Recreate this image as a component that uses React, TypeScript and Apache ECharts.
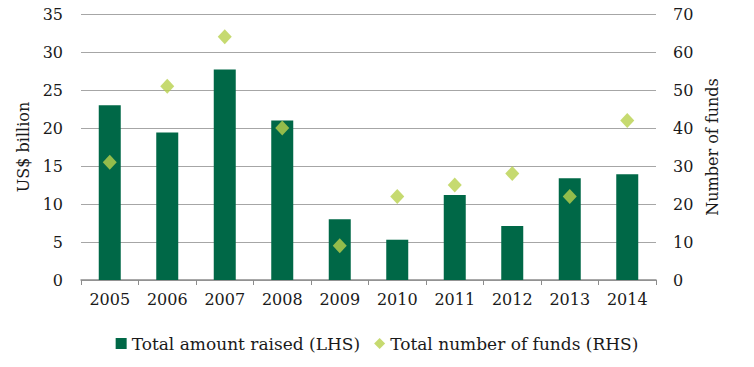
import React, { useEffect, useRef } from "react";
import * as echarts from "echarts";

const years = ["2005", "2006", "2007", "2008", "2009", "2010", "2011", "2012", "2013", "2014"];
const amountRaised = [23, 19.4, 27.7, 21, 8, 5.3, 11.2, 7.1, 13.4, 13.9];
const numberOfFunds = [31, 51, 64, 40, 9, 22, 25, 28, 22, 42];

const FONT = "DejaVu Serif";
const BAR = "#006847";
const DIAMOND = "#B8D14C";
const TEXT = "#1a1a1a";

export default function App() {
  const ref = useRef<HTMLDivElement>(null);
  useEffect(() => {
    if (!ref.current) return;
    const chart = echarts.init(ref.current, null, { renderer: "svg" });
    chart.setOption({
      animation: false,
      textStyle: { fontFamily: FONT, color: TEXT },
      grid: { left: 81, right: 98, top: 14, bottom: 87 },
      legend: {
        top: 330,
        left: "center",
        itemGap: 14,
        itemWidth: 11,
        itemHeight: 11,
        textStyle: { fontFamily: FONT, fontSize: 17, color: TEXT },
        data: [
          { name: "Total amount raised (LHS)", icon: "rect" },
          { name: "Total number of funds (RHS)", icon: "diamond" },
        ],
      },
      xAxis: {
        type: "category",
        data: years,
        axisLine: { lineStyle: { color: "#8c8c8c", width: 1.5 } },
        axisTick: { show: true, length: 5, lineStyle: { color: "#8c8c8c" } },
        axisLabel: { fontFamily: FONT, fontSize: 16, color: TEXT, margin: 11 },
      },
      yAxis: [
        {
          type: "value",
          min: 0,
          max: 35,
          interval: 5,
          name: "US$ billion",
          nameLocation: "middle",
          nameRotate: 90,
          nameGap: 42,
          nameTextStyle: { fontFamily: FONT, fontSize: 16, color: TEXT },
          axisLine: { show: false },
          axisTick: { show: false },
          axisLabel: { fontFamily: FONT, fontSize: 16, color: TEXT, margin: 18 },
          splitLine: { lineStyle: { color: "#a6a6a6", width: 1.2 } },
        },
        {
          type: "value",
          min: 0,
          max: 70,
          interval: 10,
          position: "right",
          name: "Number of funds",
          nameLocation: "middle",
          nameRotate: 90,
          nameGap: 45,
          nameTextStyle: { fontFamily: FONT, fontSize: 16, color: TEXT },
          axisLine: { show: false },
          axisTick: { show: false },
          axisLabel: { fontFamily: FONT, fontSize: 16, color: TEXT, margin: 17 },
          splitLine: { show: false },
        },
      ],
      series: [
        {
          name: "Total amount raised (LHS)",
          type: "bar",
          data: amountRaised,
          barWidth: 22,
          itemStyle: { color: BAR },
        },
        {
          name: "Total number of funds (RHS)",
          type: "scatter",
          yAxisIndex: 1,
          data: numberOfFunds,
          symbol: "diamond",
          symbolSize: [14, 15],
          itemStyle: { color: DIAMOND },
        },
      ],
    });
    return () => chart.dispose();
  }, []);
  return <div ref={ref} style={{ width: 754, height: 367, position: "absolute", left: 0, top: 0 }} />;
}
